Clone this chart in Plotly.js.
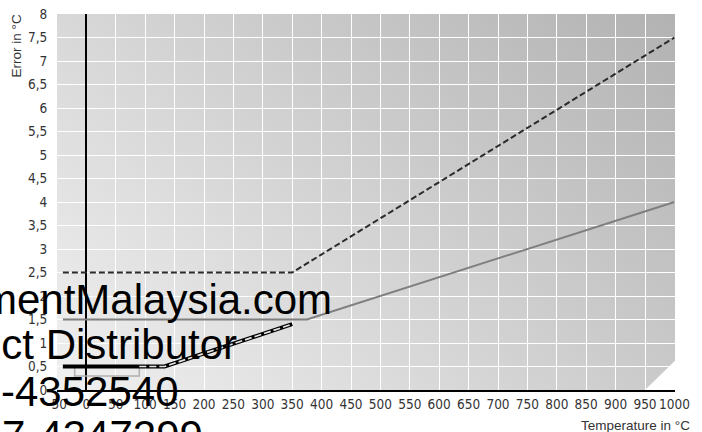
<!DOCTYPE html>
<html>
<head>
<meta charset="utf-8">
<script src="https://cdn.plot.ly/plotly-3.0.1.min.js"></script>
<style>html,body{margin:0;padding:0;background:#fff;}#chart{width:702px;height:432px;}</style>
</head>
<body>
<div id="chart"></div>
<script>
// ---- data ----
const xTickVals = [-50,0,50,100,150,200,250,300,350,400,450,500,550,600,650,700,750,800,850,900,950,1000];
const xTickText = ['-50','0','50','100','150','200','250','300','350','400','450','500','550','600','650','700','750','800','850','900','950','1000'];
const yTickVals = [0,0.5,1,1.5,2,2.5,3,3.5,4,4.5,5,5.5,6,6.5,7,7.5,8];
const yTickText = ['0','0,5','1','1,5','2','2,5','3','3,5','4','4,5','5','5,5','6','6,5','7','7,5','8'];
const yIntVals = [0,1,2,3,4,5,6,7,8];

const class2X = [-40, 350, 1000];
const class2Y = [2.5, 2.5, 7.5];
const class1X = [-40, 375, 1000];
const class1Y = [1.5, 1.5, 4];
const stepX = [-40, -20, -20, 90, 90];
const stepY = [0.5, 0.5, 0.3, 0.3, 0.5];
const typeTX = [-40, 133, 350];
const typeTY = [0.5, 0.5, 1.4];
const typeTDashX = [90, 133, 350];
const typeTDashY = [0.5, 0.5, 1.4];

const watermark = ['mentMalaysia.com', 'uct Distributor', '-4352540', '7-4347299'];

// ---- styling ----
const tickFont = {family: 'Liberation Sans Narrow, DejaVu Sans Condensed, Liberation Sans, sans-serif', size: 13.5, color: '#333'};
const titleFont = {family: 'Liberation Sans, Arial, sans-serif', size: 13.5, color: '#333'};
const wmFont = {family: 'Liberation Sans, Arial, sans-serif', size: 42, color: '#000'};

const svg = '<svg xmlns="http://www.w3.org/2000/svg" width="618" height="376" viewBox="0 0 618 376" preserveAspectRatio="none">' +
  '<defs><linearGradient id="g" gradientUnits="userSpaceOnUse" x1="618" y1="0" x2="138" y2="507">' +
  '<stop offset="0" stop-color="#b2b2b2"/><stop offset="1" stop-color="#f0f0f0"/></linearGradient></defs>' +
  '<rect x="0" y="0" width="618" height="376" fill="url(#g)"/></svg>';
const bgSrc = 'data:image/svg+xml;charset=utf-8,' + encodeURIComponent(svg);

const traces = [
  {x: stepX, y: stepY, type: 'scatter', mode: 'lines', line: {color: '#b0b0b0', width: 1.5}},
  {x: class1X, y: class1Y, type: 'scatter', mode: 'lines', line: {color: '#7f7f7f', width: 2}},
  {x: class2X, y: class2Y, type: 'scatter', mode: 'lines', line: {color: '#2a2a2a', width: 2, dash: '6px,3px'}},
  {x: typeTX, y: typeTY, type: 'scatter', mode: 'lines', line: {color: '#000', width: 4}},
  {x: typeTDashX, y: typeTDashY, type: 'scatter', mode: 'lines', line: {color: '#e4e4e4', width: 1.7, dash: '7px,3px'}}
];

const annotations = [
  {text: 'Error in °C', xref: 'paper', yref: 'paper', x: -0.0663, y: 0.9136, xanchor: 'center', yanchor: 'middle', textangle: -90, showarrow: false, font: titleFont},
  {text: 'Temperature in °C', xref: 'paper', yref: 'paper', x: 0.9353, y: -0.0931, xanchor: 'center', yanchor: 'middle', showarrow: false, font: titleFont},
  {text: watermark[0], xref: 'paper', yref: 'paper', x: 0.4482, y: 0.2394, xanchor: 'right', yanchor: 'middle', showarrow: false, font: wmFont},
  {text: watermark[1], xref: 'paper', yref: 'paper', x: 0.2945, y: 0.1223, xanchor: 'right', yanchor: 'middle', showarrow: false, font: wmFont},
  {text: watermark[2], xref: 'paper', yref: 'paper', x: 0.2006, y: -0.0027, xanchor: 'right', yanchor: 'middle', showarrow: false, font: wmFont},
  {text: watermark[3], xref: 'paper', yref: 'paper', x: -0.0922, y: -0.1197, xanchor: 'left', yanchor: 'middle', showarrow: false, font: wmFont}
];

const layout = {
  width: 702, height: 432,
  margin: {l: 57, r: 27, t: 14, b: 42},
  paper_bgcolor: '#ffffff',
  plot_bgcolor: 'rgba(0,0,0,0)',
  showlegend: false,
  hovermode: false,
  xaxis: {
    range: [-50, 1001], tickmode: 'array', tickvals: xTickVals, ticktext: xTickText,
    showgrid: true, gridcolor: '#ffffff', gridwidth: 1,
    zeroline: true, zerolinecolor: '#000', zerolinewidth: 2,
    showline: true, linecolor: '#000', linewidth: 2,
    ticks: 'outside', ticklen: 1, tickcolor: 'rgba(0,0,0,0)',
    tickfont: tickFont, fixedrange: true
  },
  yaxis: {
    range: [0, 8], tickmode: 'array', tickvals: yTickVals, ticktext: yTickText,
    showgrid: true, gridcolor: '#ffffff', gridwidth: 1,
    zeroline: false, showline: false,
    ticks: 'outside', ticklen: 6, tickcolor: 'rgba(0,0,0,0)',
    tickfont: tickFont, fixedrange: true
  },
  yaxis2: {
    overlaying: 'y', matches: 'y', anchor: 'x', side: 'left',
    tickmode: 'array', tickvals: yIntVals, showticklabels: false,
    showgrid: true, gridcolor: '#e8e8e8', gridwidth: 2.5, zeroline: false, showline: false
  },
  images: [{source: bgSrc, xref: 'paper', yref: 'paper', x: 0, y: 1, sizex: 1, sizey: 1,
            xanchor: 'left', yanchor: 'top', sizing: 'stretch', layer: 'below'}],
  shapes: [{type: 'path', xref: 'x', yref: 'y', layer: 'below',
            path: 'M 950,0 L 1001,0.62 L 1001,0 Z', fillcolor: '#ffffff', line: {width: 0}}],
  annotations: annotations
};

Plotly.newPlot('chart', traces, layout, {staticPlot: true, displayModeBar: false});
</script>
</body>
</html>
